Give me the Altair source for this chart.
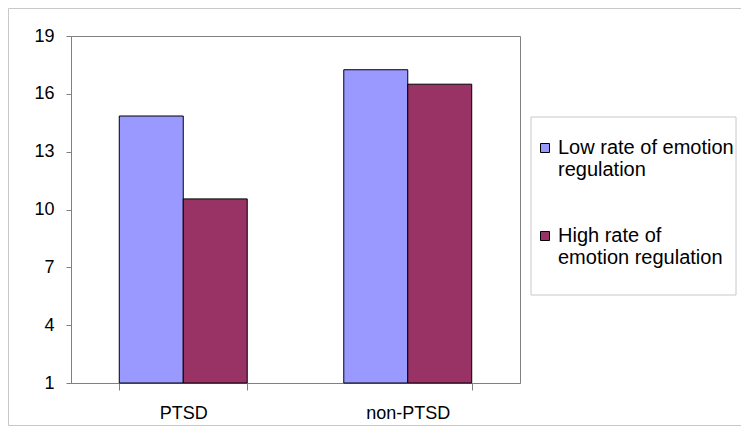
import altair as alt
import pandas as pd

groups = ["PTSD", "non-PTSD"]
series = ["Low rate of emotion regulation", "High rate of emotion regulation"]
low_values = [14.85, 17.25]
high_values = [10.55, 16.5]
colors = ["#9999FF", "#993366"]
y_ticks = [1, 4, 7, 10, 13, 16, 19]

rows = []
for i, g in enumerate(groups):
    rows.append({"group": g, "series": series[0], "value": low_values[i]})
    rows.append({"group": g, "series": series[1], "value": high_values[i]})
df = pd.DataFrame(rows)

FONT = "Liberation Sans"
label_expr = ("datum.label == 'Low rate of emotion regulation' ? "
              "['Low rate of emotion', 'regulation'] : "
              "['High rate of', 'emotion regulation']")

bars = alt.Chart(df).mark_bar(stroke="black", strokeWidth=1).encode(
    x=alt.X("group:N", sort=groups,
            scale=alt.Scale(paddingInner=0.43, paddingOuter=0.215),
            axis=alt.Axis(title=None, labelAngle=0, tickBand="extent",
                          tickSize=7, labelPadding=14, labelFont=FONT,
                          labelFontSize=18, labelColor="black",
                          domainColor="#808080", tickColor="#808080")),
    xOffset=alt.XOffset("series:N", sort=series,
                        scale=alt.Scale(paddingInner=0, paddingOuter=0)),
    y=alt.Y("value:Q",
            scale=alt.Scale(domain=[1, 19], nice=False, zero=False),
            axis=alt.Axis(title=None, values=y_ticks, grid=False, tickSize=5,
                          labelPadding=12, labelFont=FONT, labelFontSize=18,
                          labelColor="black", domainColor="#808080",
                          tickColor="#808080")),
    y2=alt.datum(1),
    color=alt.Color("series:N", sort=series,
                    scale=alt.Scale(domain=series, range=colors),
                    legend=alt.Legend(title=None, orient="none", legendX=464,
                                      legendY=102, symbolType="square",
                                      symbolSize=81, symbolStrokeColor="black",
                                      symbolStrokeWidth=1, labelFont=FONT,
                                      labelFontSize=20, labelColor="black",
                                      labelOffset=3, labelLimit=0,
                                      labelBaseline="middle",
                                      labelExpr=label_expr, rowPadding=46,
                                      padding=0)),
)

frame_data = alt.Data(values=[{"k": 1}])
outer = alt.Chart(frame_data).mark_rect(fillOpacity=0, stroke="#c8c8c8",
                                        strokeWidth=1).encode(
    x=alt.value(-62.5), x2=alt.value(670.5),
    y=alt.value(-27.5), y2=alt.value(389.5))
legend_box = alt.Chart(frame_data).mark_rect(fillOpacity=0, stroke="#c8c8c8",
                                             strokeWidth=1).encode(
    x=alt.value(460), x2=alt.value(665),
    y=alt.value(81), y2=alt.value(259))

chart = alt.layer(outer, legend_box, bars).properties(
    width=449, height=347,
    autosize=alt.AutoSizeParams(type="none"),
    padding={"left": 63, "top": 28, "right": 221, "bottom": 43},
    background="white",
).configure_view(stroke="#808080", strokeWidth=1)

chart.save("out.html", embed_options={"renderer": "svg", "actions": False})
